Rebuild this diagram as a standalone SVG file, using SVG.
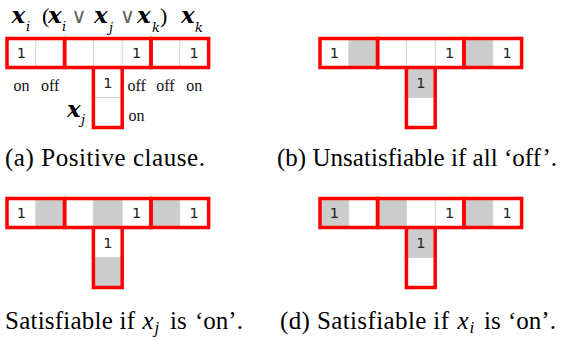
<svg xmlns="http://www.w3.org/2000/svg" xmlns:xlink="http://www.w3.org/1999/xlink" width="561" height="341" viewBox="0 0 561 341">
<style>
.cell{fill:#fff}
.sh{fill:#cccccc}
.thin{fill:none;stroke:#d2d2d2;stroke-width:1}
.red{fill:none;stroke:#ff0000;stroke-width:3.5}
.one{font-family:"DejaVu Sans",sans-serif;font-size:14.5px;fill:#222;text-anchor:middle}
.lab{font-family:"Liberation Serif",serif;font-size:16px;fill:#111;text-anchor:middle}
.cap{font-family:"Liberation Serif",serif;font-size:25px;fill:#000}
.capi{font-family:"Liberation Serif",serif;font-size:25px;font-style:italic;fill:#000}
.capsub{font-family:"Liberation Serif",serif;font-size:17px;font-style:italic;fill:#000}
.mx{font-family:"DejaVu Serif",serif;font-style:italic;font-weight:bold;font-size:23px;fill:#000}
.sub{font-family:"DejaVu Serif",serif;font-style:italic;font-size:13px;fill:#000}
.or{font-family:"DejaVu Sans",sans-serif;font-size:21px;fill:#666;text-anchor:middle}
.par{font-family:"Liberation Serif",serif;font-size:22px;fill:#000}
</style>
<defs>
<g id="base">
<rect class="cell" x="7" y="38.5" width="201.6" height="29"/>
<rect class="cell" x="93.4" y="67.5" width="28.8" height="60"/>
</g>
<g id="frame">
<path class="thin" d="M35.8,38.5V67.5M93.4,38.5V67.5M122.2,38.5V67.5M179.8,38.5V67.5M90.5,97.5H122.2"/>
<rect class="red" x="7" y="38.5" width="57.6" height="29"/>
<rect class="red" x="64.6" y="38.5" width="86.4" height="29"/>
<rect class="red" x="151" y="38.5" width="57.6" height="29"/>
<path class="red" d="M93.4,67.5V127.5H122.2V67.5"/>
<text class="one" x="21.4" y="58">1</text>
<text class="one" x="136.6" y="58">1</text>
<text class="one" x="194.2" y="58">1</text>
<text class="one" x="107.8" y="87.5">1</text>
</g>
</defs>

<g id="panel-a">
<use xlink:href="#base"/>
<use xlink:href="#frame"/>
<text class="mx" x="11.5" y="23">x</text><text class="sub" x="26" y="31">i</text>
<text class="par" x="42" y="23">(</text>
<text class="mx" x="48" y="23">x</text><text class="sub" x="62" y="31">i</text>
<text class="or" x="79" y="23">∨</text>
<text class="mx" x="94" y="23">x</text><text class="sub" x="109" y="32">j</text>
<text class="or" x="127.5" y="23">∨</text>
<text class="mx" x="137" y="23">x</text><text class="sub" x="152" y="32">k</text>
<text class="par" x="160" y="23">)</text>
<text class="mx" x="181" y="23">x</text><text class="sub" x="195" y="32">k</text>
<text class="lab" x="21.4" y="91">on</text>
<text class="lab" x="50.2" y="91">off</text>
<text class="lab" x="136.6" y="91">off</text>
<text class="lab" x="165.4" y="91">off</text>
<text class="lab" x="194.2" y="91">on</text>
<text class="lab" x="136.6" y="121">on</text>
<text class="mx" x="67" y="117">x</text><text class="sub" x="81" y="124">j</text>
<text class="cap" x="5" y="166" textLength="200" lengthAdjust="spacing">(a) Positive clause.</text>
</g>

<g id="panel-b" transform="translate(313,0)">
<use xlink:href="#base"/>
<rect class="sh" x="35.8" y="38.5" width="28.8" height="29"/>
<rect class="sh" x="151" y="38.5" width="28.8" height="29"/>
<rect class="sh" x="93.4" y="67.5" width="28.8" height="30"/>
<use xlink:href="#frame"/>
</g>
<text class="cap" x="277" y="166" textLength="280" lengthAdjust="spacing">(b) Unsatisfiable if all ‘off’.</text>

<g id="panel-c" transform="translate(0,160)">
<use xlink:href="#base"/>
<rect class="sh" x="35.8" y="38.5" width="28.8" height="29"/>
<rect class="sh" x="93.4" y="38.5" width="28.8" height="29"/>
<rect class="sh" x="151" y="38.5" width="28.8" height="29"/>
<rect class="sh" x="93.4" y="97.5" width="28.8" height="30"/>
<use xlink:href="#frame"/>
</g>
<text class="cap" x="5" y="329" textLength="130" lengthAdjust="spacing">Satisfiable if</text>
<text class="capi" x="142.5" y="329">x</text><text class="capsub" x="154.5" y="333">j</text>
<text class="cap" x="170" y="329">is</text>
<text class="cap" x="195" y="329">‘on’.</text>

<g id="panel-d" transform="translate(313,160)">
<use xlink:href="#base"/>
<rect class="sh" x="7" y="38.5" width="28.8" height="29"/>
<rect class="sh" x="64.6" y="38.5" width="28.8" height="29"/>
<rect class="sh" x="151" y="38.5" width="28.8" height="29"/>
<rect class="sh" x="93.4" y="67.5" width="28.8" height="30"/>
<use xlink:href="#frame"/>
</g>
<text class="cap" x="280" y="329" textLength="169" lengthAdjust="spacing">(d) Satisfiable if</text>
<text class="capi" x="457.5" y="329">x</text><text class="capsub" x="469.5" y="333">i</text>
<text class="cap" x="484" y="329">is</text>
<text class="cap" x="508" y="329">‘on’.</text>
</svg>
